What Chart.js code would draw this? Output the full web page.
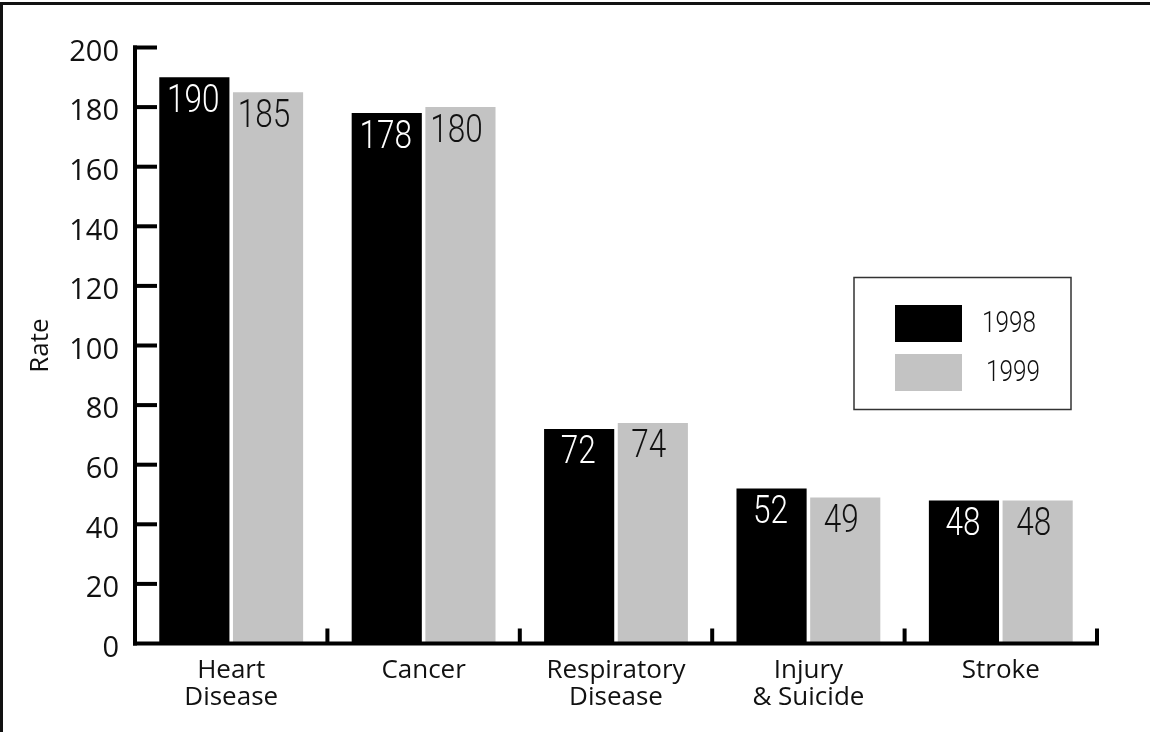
<!DOCTYPE html>
<html>
<head>
<meta charset="utf-8">
<title>Rate by cause, 1998 and 1999</title>
<script src="https://cdn.jsdelivr.net/npm/chart.js@4.4.1/dist/chart.umd.min.js"></script>
<style>
  html, body { margin: 0; padding: 0; background: #fff; }
  #wrap { position: relative; width: 1150px; height: 732px; }
</style>
</head>
<body>
<div id="wrap"><canvas id="chart"></canvas></div>
<script>
// Causes along the x axis (multi-line labels)
const categories = [
  ['Heart', 'Disease'],
  ['Cancer'],
  ['Respiratory', 'Disease'],
  ['Injury', '& Suicide'],
  ['Stroke']
];
const seriesNames = ['1998', '1999'];
const rates1998 = [190, 178, 72, 52, 48];
const rates1999 = [185, 180, 74, 49, 48];
const yTicks = [0, 20, 40, 60, 80, 100, 120, 140, 160, 180, 200];

const BLACK = '#000000';
const GREY = '#c3c3c3';
const digitFont = 'Roboto, "Open Sans", sans-serif';
const plainFont = '"Open Sans", "Liberation Sans", sans-serif';

// Draw text squeezed horizontally to get a condensed face
function condensedText(ctx, text, x, y, squeeze) {
  ctx.save();
  ctx.translate(x, y);
  ctx.scale(squeeze, 1);
  ctx.fillText(text, 0, 0);
  ctx.restore();
}

// Outer frame (top and left rules)
const framePlugin = {
  id: 'frame',
  beforeDraw(chart) {
    const ctx = chart.ctx;
    ctx.save();
    ctx.fillStyle = '#111';
    ctx.fillRect(0, 2, chart.width, 3);
    ctx.fillRect(0, 2, 3, chart.height);
    ctx.restore();
  }
};

// Heavy axis lines, inward y ticks and upward category separators
const axesPlugin = {
  id: 'heavyAxes',
  afterDatasetsDraw(chart) {
    const { ctx, chartArea } = chart;
    const { left, right, bottom } = chartArea;
    const x = chart.scales.x, y = chart.scales.y;
    const topPx = y.getPixelForValue(yTicks[yTicks.length - 1]);
    ctx.save();
    ctx.fillStyle = '#000';
    // y axis
    ctx.fillRect(left - 2, topPx - 2, 4, bottom - topPx + 4);
    // x axis
    ctx.fillRect(left - 2, bottom - 2, right - left + 4, 4);
    // y ticks pointing into the plot
    yTicks.forEach(v => {
      if (v === 0) return;
      const py = y.getPixelForValue(v);
      ctx.fillRect(left - 2, py - 2, 24, 4);
    });
    // separators between categories
    const n = categories.length;
    const w = (right - left) / n;
    for (let i = 1; i <= n; i++) {
      const px = x.getPixelForValue(i - 1) + w / 2;
      ctx.fillRect(px - 2, bottom - 15, 4, 15);
    }
    ctx.restore();
  }
};

// Values printed inside the top of each bar
const valueLabelPlugin = {
  id: 'valueLabels',
  afterDatasetsDraw(chart) {
    const ctx = chart.ctx;
    ctx.save();
    ctx.font = '300 38px ' + digitFont;
    ctx.textAlign = 'center';
    ctx.textBaseline = 'middle';
    chart.data.datasets.forEach((ds, di) => {
      const meta = chart.getDatasetMeta(di);
      meta.data.forEach((bar, i) => {
        ctx.fillStyle = di === 0 ? '#fff' : '#111';
        const dx = di === 0 ? -1 : -4;
        condensedText(ctx, String(ds.data[i]), bar.x + dx, bar.y + 25, 0.83);
      });
    });
    ctx.restore();
  }
};

// Boxed legend on the right side of the plot
const boxLegendPlugin = {
  id: 'boxLegend',
  afterDraw(chart) {
    const ctx = chart.ctx;
    ctx.save();
    ctx.strokeStyle = '#333';
    ctx.lineWidth = 1.5;
    ctx.strokeRect(854, 277.5, 217, 132);
    ctx.font = '300 30px ' + digitFont;
    ctx.textAlign = 'left';
    ctx.textBaseline = 'middle';
    chart.data.datasets.forEach((ds, i) => {
      const top = 305 + i * 49;
      ctx.fillStyle = ds.backgroundColor;
      ctx.fillRect(895, top, 67, 37);
      ctx.fillStyle = '#111';
      condensedText(ctx, ds.label, 982 + i * 4, top + 19, 0.81);
    });
    ctx.restore();
  }
};

new Chart(document.getElementById('chart'), {
  type: 'bar',
  data: {
    labels: categories,
    datasets: [
      { label: seriesNames[0], data: rates1998, backgroundColor: BLACK },
      { label: seriesNames[1], data: rates1999, backgroundColor: GREY }
    ]
  },
  options: {
    responsive: true,
    maintainAspectRatio: false,
    animation: false,
    events: [],
    layout: { padding: { left: 0, right: 53, top: 47.5, bottom: 0 } },
    datasets: {
      bar: { categoryPercentage: 0.766, barPercentage: 0.952, borderWidth: 0 }
    },
    plugins: {
      legend: { display: false },
      tooltip: { enabled: false },
      title: { display: false }
    },
    scales: {
      x: {
        grid: { display: false, drawTicks: false },
        border: { display: false },
        ticks: {
          color: '#111',
          font: { family: plainFont, size: 26, lineHeight: 1.05 },
          padding: 13,
          maxRotation: 0,
          autoSkip: false
        },
        afterFit(scale) { scale.height = 88.5; }
      },
      y: {
        min: 0,
        max: 200,
        afterBuildTicks(scale) { scale.ticks = yTicks.map(v => ({ value: v })); },
        grid: { display: false, drawTicks: false },
        border: { display: false },
        ticks: {
          color: '#111',
          font: { family: plainFont, size: 29 },
          padding: 16,
          labelOffset: 5
        },
        title: {
          display: true,
          text: 'Rate',
          color: '#111',
          font: { family: plainFont, size: 26 },
          padding: { top: 25, bottom: 0 }
        },
        afterFit(scale) { scale.width = 135; }
      }
    }
  },
  plugins: [framePlugin, axesPlugin, valueLabelPlugin, boxLegendPlugin]
});
</script>
</body>
</html>
